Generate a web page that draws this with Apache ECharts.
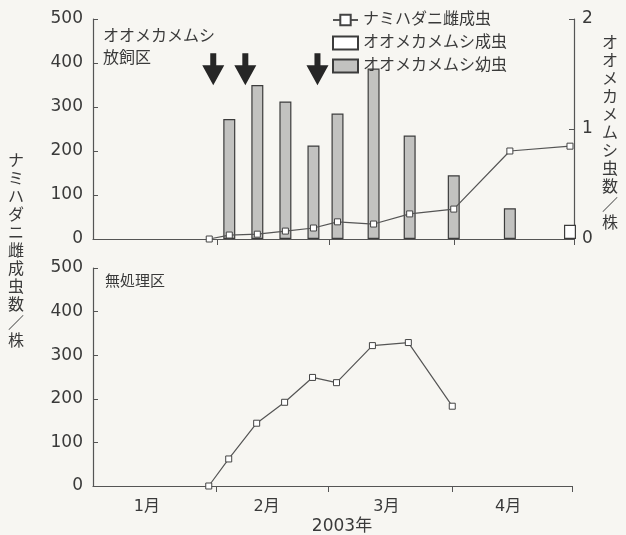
<!DOCTYPE html>
<html>
<head>
<meta charset="utf-8">
<script src="https://cdn.jsdelivr.net/npm/echarts@6/dist/echarts.min.js"></script>
<style>
html,body{margin:0;padding:0;background:#f7f6f2;}
#c{width:626px;height:535px;}
</style>
</head>
<body>
<div id="c"></div>
<script>
// ---- data (days counted from 1 Jan 2003) ----
const monthNames = ['1月', '2月', '3月', '4月'];
const monthLabelDays = [13.5, 43.5, 73.5, 104];
const monthTickDays = [31, 59, 90, 120];
const releaseDays = [30, 38, 56];

const releasedDays = [29, 34, 41, 48, 55, 61, 70, 79, 90, 104, 119];
const releasedMites = [0, 9, 11, 18, 25, 39, 34, 57, 68, 200, 211];

const nymphDays = [34, 41, 48, 55, 61, 70, 79, 90, 104];
const nymphCounts = [1.09, 1.40, 1.25, 0.85, 1.14, 1.55, 0.94, 0.58, 0.28];

const adultDays = [119];
const adultCounts = [0.13];

const untreatedDays = [29, 34, 41, 48, 55, 61, 70, 79, 90];
const untreatedMites = [0, 62, 144, 192, 249, 237, 322, 329, 183];

const leftTicks = [0, 100, 200, 300, 400, 500];
const rightTicks = [0, 1, 2];

const names = {
  mite: 'ナミハダニ雌成虫',
  adult: 'オオメカメムシ成虫',
  nymph: 'オオメカメムシ幼虫'
};

// ---- chart ----
const FONT = '"DejaVu Sans", "Noto Sans CJK JP", sans-serif';
const TXT = '#3a3a3a';
const AX = '#555';
const zip = (xs, ys) => xs.map((x, i) => [x, ys[i]]);
const vertical = s => s.split('').join('\n');

const xBase = {
  type: 'value', min: 0, max: 120,
  splitLine: { show: false },
  axisLine: { lineStyle: { color: AX, width: 1.2 } },
  axisTick: { show: true, customValues: monthTickDays, length: 6, lineStyle: { color: AX } }
};
const yBase = {
  type: 'value', min: 0, max: 500, interval: 100,
  splitLine: { show: false },
  axisLine: { show: true, lineStyle: { color: AX, width: 1.2 } },
  axisTick: { show: true, inside: true, length: 5, lineStyle: { color: AX } },
  axisLabel: { color: TXT, fontFamily: FONT, fontSize: 17, margin: 10 }
};

const lineStyleCommon = {
  type: 'line',
  symbol: 'rect',
  symbolSize: 6,
  lineStyle: { color: '#555', width: 1.2 },
  itemStyle: { color: '#fff', borderColor: '#444', borderWidth: 1 }
};

const option = {
  backgroundColor: '#f7f6f2',
  animation: false,
  textStyle: { fontFamily: FONT },
  grid: [
    { left: 93, right: 52, top: 19, height: 220 },
    { left: 93, right: 54, top: 268, height: 218 }
  ],
  xAxis: [
    Object.assign({}, xBase, { gridIndex: 0, axisLabel: { show: false } }),
    Object.assign({}, xBase, {
      gridIndex: 1,
      axisLabel: {
        show: true, customValues: monthLabelDays, color: TXT, fontFamily: FONT, fontSize: 16, margin: 13,
        formatter: v => monthNames[monthLabelDays.indexOf(v)] || ''
      }
    })
  ],
  yAxis: [
    Object.assign({}, yBase, { gridIndex: 0 }),
    Object.assign({}, yBase, {
      gridIndex: 0, position: 'right', min: 0, max: 2, interval: 1,
      axisLabel: Object.assign({}, yBase.axisLabel, { margin: 8 })
    }),
    Object.assign({}, yBase, { gridIndex: 1 })
  ],
  legend: {
    orient: 'vertical', left: 327, top: 6,
    itemWidth: 25, itemHeight: 13, itemGap: 5,
    textStyle: { color: TXT, fontFamily: FONT, fontSize: 16, lineHeight: 18 },
    data: [
      { name: names.mite },
      { name: names.adult, icon: 'rect' },
      { name: names.nymph, icon: 'rect' }
    ]
  },
  series: [
    {
      name: names.nymph, type: 'bar', xAxisIndex: 0, yAxisIndex: 1,
      barWidth: 12, barGap: '-100%',
      itemStyle: { color: '#c2c2c0', borderColor: '#3c3c3c', borderWidth: 1.2 },
      data: zip(nymphDays, nymphCounts)
    },
    {
      name: names.adult, type: 'bar', xAxisIndex: 0, yAxisIndex: 1,
      barWidth: 12, barGap: '-100%',
      itemStyle: { color: '#ffffff', borderColor: '#3c3c3c', borderWidth: 1.2 },
      data: zip(adultDays, adultCounts)
    },
    Object.assign({}, lineStyleCommon, {
      name: names.mite, xAxisIndex: 0, yAxisIndex: 0, z: 5,
      data: zip(releasedDays, releasedMites)
    }),
    Object.assign({}, lineStyleCommon, {
      name: 'untreated', xAxisIndex: 1, yAxisIndex: 2,
      data: zip(untreatedDays, untreatedMites)
    }),
    {
      type: 'scatter', xAxisIndex: 0, yAxisIndex: 0, z: 6,
      symbol: 'path://M8,0 L14,0 L14,12 L22,12 L11,32 L0,12 L8,12 Z',
      symbolSize: [22, 32],
      itemStyle: { color: '#262626', opacity: 1 },
      data: releaseDays.map(d => [d, 386])
    }
  ],
  graphic: [
    { type: 'text', left: 103, top: 26,
      style: { text: 'オオメカメムシ\n放飼区', font: '16px ' + FONT, fill: TXT, lineHeight: 22 } },
    { type: 'text', left: 105, top: 275,
      style: { text: '無処理区', font: '15px ' + FONT, fill: TXT } },
    { type: 'text', x: 16, y: 252,
      style: { text: vertical('ナミハダニ雌成虫数／株'), font: '16px ' + FONT, fill: TXT,
               lineHeight: 18, align: 'center', verticalAlign: 'middle' } },
    { type: 'text', x: 610, y: 134,
      style: { text: vertical('オオメカメムシ虫数／株'), font: '16px ' + FONT, fill: TXT,
               lineHeight: 18, align: 'center', verticalAlign: 'middle' } },
    { type: 'text', x: 342, y: 527,
      style: { text: '2003年', font: '17px ' + FONT, fill: TXT, align: 'center', verticalAlign: 'middle' } }
  ]
};

const chart = echarts.init(document.getElementById('c'), null, { renderer: 'canvas' });
chart.setOption(option);
</script>
</body>
</html>
